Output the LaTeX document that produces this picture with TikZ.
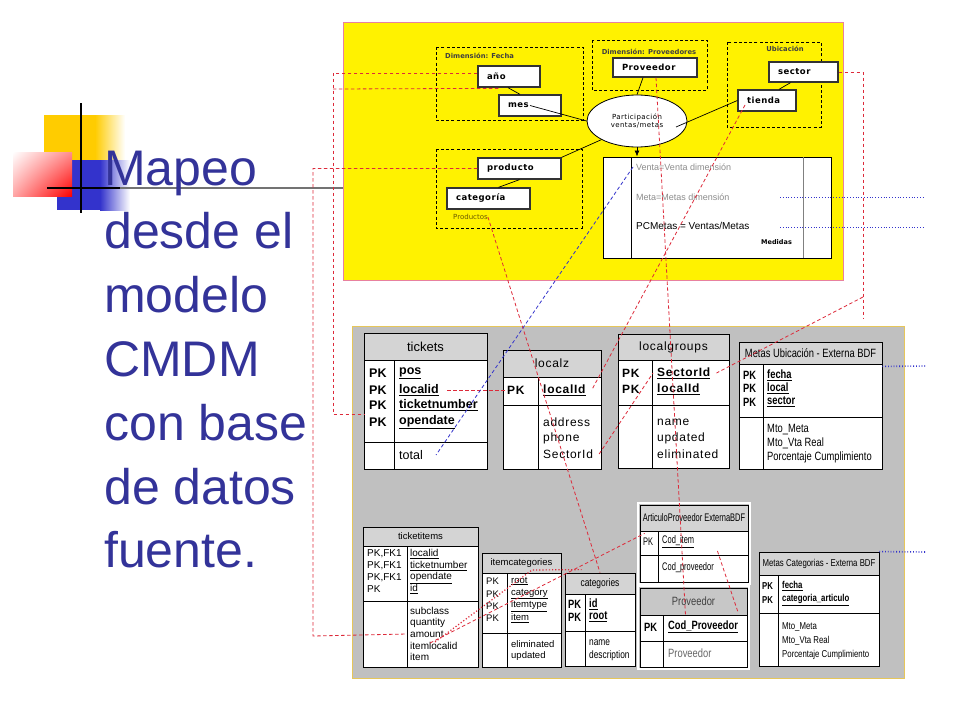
\documentclass[tikz,border=0pt]{standalone}
\usepackage{fontspec}
\setmainfont{Liberation Sans}
\newfontfamily\verdfont{DejaVu Sans}
\newfontfamily\verdspaced[LetterSpace=6]{DejaVu Sans}
\newfontfamily\spacedfont[LetterSpace=6]{Liberation Sans}
\newfontfamily\narrowfont[FakeStretch=0.78]{Liberation Sans}
\newfontfamily\condfont[FakeStretch=0.68]{Liberation Sans}
\usetikzlibrary{shapes.geometric,arrows.meta,shadings}
\definecolor{titleblue}{HTML}{333399}
\definecolor{pinkedge}{HTML}{E8819F}
\definecolor{panelgray}{HTML}{C0C0C0}
\definecolor{grayedge}{HTML}{E6C65A}
\definecolor{hdrgray}{HTML}{D4D4D4}
\definecolor{mapred}{HTML}{DD2A3A}
\definecolor{mapblue}{HTML}{3333CC}
\definecolor{gold}{HTML}{FFCC00}
\definecolor{prodbrown}{HTML}{6B5A00}
\begin{document}
\begin{tikzpicture}[x=1pt, y=-1pt,
  title/.style={anchor=base west, inner sep=0, text=titleblue, font=\fontsize{50}{60}\selectfont},
  dimframe/.style={line width=1pt, dash pattern=on 3pt off 2.2pt},
  dimlabel/.style={inner sep=0, text=black!75, font=\verdfont\bfseries\fontsize{6.8}{8}\selectfont},
  attr/.style={draw=black!80, line width=1.3pt, fill=white, minimum height=21pt, inner xsep=9pt, inner ysep=0pt, align=left, font=\verdspaced\bfseries\fontsize{8.5}{10}\selectfont},
  link/.style={line width=0.7pt},
  map/.style={mapred, line width=0.8pt, dash pattern=on 3.5pt off 2.5pt},
  mapdot/.style={mapred, line width=1.2pt, dotted},
  venta/.style={mapblue, line width=0.8pt, dash pattern=on 3.5pt off 2.5pt},
  metaline/.style={mapblue, line width=0.8pt, dotted},
  tab/.style={draw, line width=0.8pt, fill=white},
  head/.style={draw, line width=0.8pt, fill=hdrgray, inner sep=0},
  cell/.style={anchor=west, inner sep=0},
  tkf/.style={cell, font=\fontsize{12.5}{14}\selectfont},
  lzf/.style={cell, font=\spacedfont\fontsize{12}{14}\selectfont},
  muf/.style={cell, font=\narrowfont\fontsize{12}{14}\selectfont},
  tif/.style={cell, font=\fontsize{10}{12}\selectfont},
  icf/.style={cell, font=\fontsize{9.5}{11}\selectfont},
  caf/.style={cell, font=\narrowfont\fontsize{10.7}{12}\selectfont},
  apf/.style={cell, font=\condfont\fontsize{11}{12}\selectfont},
  mcf/.style={cell, font=\narrowfont\fontsize{10}{12}\selectfont}]
\useasboundingbox (0,0) rectangle (960,720);
\fill[white] (0,0) rectangle (960,720);

% logo squares
\fill[gold] (44,115) rectangle (95,163);
\shade[left color=gold, right color=white] (95,115) rectangle (125,163);
\fill[mapblue] (57,160) rectangle (100,210);
\shade[left color=mapblue, right color=white] (100,160) rectangle (130,210);
\shade[lower right=red, lower left=red!35, upper right=red!45, upper left=white] (13,152) rectangle (72,196);
\draw[line width=1.5pt] (81,103) -- (81,213);
\draw[line width=1.5pt] (47,188) -- (120,188);
\draw[line width=1.5pt, black!55] (120,188) -- (343,188);

% title
\foreach \w [count=\i] in {Mapeo, desde el, modelo, CMDM, con base, de datos, fuente.}
  \node[title] (line\i) at (104,{185+63.8*(\i-1)}) {\w};

% conceptual model
\draw[pinkedge, fill=yellow, line width=1pt] (343,22) rectangle (843,280);
\draw[dimframe] (436,47) rectangle (583,120);
\draw[dimframe] (592,40) rectangle (707,90);
\draw[dimframe] (727,42) rectangle (821,127);
\draw[dimframe] (436,149) rectangle (582,228);
\node[dimlabel, anchor=west] (lfecha) at (445,56) {Dimensión: Fecha};
\node[dimlabel] (lprov) at (649,52) {Dimensión: Proveedores};
\node[dimlabel] (lubic) at (785,49) {Ubicación};
\node[cell, text=prodbrown, font=\verdfont\fontsize{7}{8}\selectfont] (lprod) at (453,217) {Productos};

\node[attr, text width=44pt] (ano) at (509,76.5) {año};
\node[attr, text width=44pt] (mes) at (530,105.5) {mes};
\node[attr, text width=66pt, minimum height=19pt] (prov) at (655,67.5) {Proveedor};
\node[attr, text width=51pt, minimum height=20pt] (sector) at (803.5,72) {sector};
\node[attr, text width=40pt] (tienda) at (767,100.5) {tienda};
\node[attr, text width=65pt] (producto) at (519.5,168.5) {producto};
\node[attr, text width=65pt] (categoria) at (488.5,198.5) {categoría};
\node[draw, ellipse, fill=white, line width=0.8pt, minimum width=100pt, minimum height=52pt, inner sep=0, align=center, font=\verdspaced\fontsize{7}{8}\selectfont] (part) at (637,121) {Participación\\ventas/metas};

\node[draw, line width=1pt, fill=white, minimum width=228pt, minimum height=101pt] (med) at (717,207.5) {};
\draw[line width=1pt] (631,157) -- (631,258);
\draw[line width=1pt, black!50] (803,157) -- (803,258);
\node[cell, text=black!45, font=\fontsize{9}{10}\selectfont] (mventa) at (636,167) {Venta=Venta dimensión};
\node[cell, text=black!45, font=\fontsize{9}{10}\selectfont] (mmeta) at (636,197) {Meta=Metas dimensión};
\node[cell, font=\fontsize{10}{12}\selectfont] (mpc) at (636,226) {PCMetas = Ventas/Metas};
\node[cell, font=\verdfont\bfseries\fontsize{6.5}{8}\selectfont] (mmed) at (761,242) {Medidas};

\draw[link] ([xshift=-1pt]ano.south) -- ([xshift=-10pt]mes.north);
\draw[link] (mes.center) -- (part.west);
\draw[link] ([xshift=-12pt]prov.south) -- (part.north);
\draw[link] (tienda.west) -- ([shift={(39pt,-6pt)}]part.center);
\draw[link] ([xshift=-13pt]sector.south) -- ([xshift=12pt]tienda.north);
\draw[link] (producto.north east) -- (part.south west);
\draw[link] ([xshift=10pt]categoria.north) -- (producto.south);
\draw[link, -{Latex[length=6pt,width=5pt]}] (part.south) -- (part.south |- med.north);

% source tables
\draw[grayedge, fill=panelgray, line width=1pt] (352,326) rectangle (904,678);

% tickets
\draw[tab] (364,333) rectangle (487,469);
\draw[link] (364,442) -- (487,442) (394,360) -- (394,469);
\node[head, minimum width=123pt, minimum height=27pt, font=\fontsize{13}{15}\selectfont] (tk-head) at (425.5,346.5) {tickets};
\foreach \n/\y in {pos/373, localid/390, ticketnumber/405, opendate/422} {
  \node[tkf] (tk-pk-\n) at (369,\y) {\bfseries PK};
  \node[tkf] (tk-\n) at (399,\y) {\bfseries\underline{\n}};
}
\node[tkf] (tk-total) at (399,455) {total};

% localz
\draw[tab] (503,350) rectangle (601,469);
\draw[link] (503,405) -- (601,405) (538,377) -- (538,469);
\node[head, minimum width=98pt, minimum height=27pt, font=\spacedfont\fontsize{12}{14}\selectfont] (lz-head) at (552,363.5) {localz};
\node[lzf] (lz-pk) at (507,390) {\bfseries PK};
\node[lzf] (lz-localId) at (543,390) {\bfseries\underline{localId}};
\foreach \n/\y in {address/422, phone/438, SectorId/454}
  \node[lzf] (lz-\n) at (543,\y) {\n};

% localgroups
\draw[tab] (618,334) rectangle (729,468);
\draw[link] (618,405) -- (729,405) (652,360) -- (652,468);
\node[head, minimum width=111pt, minimum height=26pt, font=\spacedfont\fontsize{12}{14}\selectfont] (lg-head) at (673.5,347) {localgroups};
\foreach \n/\y in {SectorId/373, localId/389} {
  \node[lzf] (lg-pk-\n) at (622,\y) {\bfseries PK};
  \node[lzf] (lg-\n) at (657,\y) {\bfseries\underline{\n}};
}
\foreach \n/\y in {name/422, updated/438, eliminated/454}
  \node[lzf] (lg-\n) at (657,\y) {\n};

% Metas Ubicacion
\draw[tab] (739,342) rectangle (882,469);
\draw[link] (739,417) -- (882,417) (763,364) -- (763,469);
\node[head, minimum width=143pt, minimum height=22pt, font=\narrowfont\fontsize{12}{14}\selectfont] (mu-head) at (810.5,353) {Metas Ubicación - Externa BDF};
\foreach \n/\y in {fecha/375, local/388, sector/402} {
  \node[muf] (mu-pk-\n) at (743,\y) {\bfseries PK};
  \node[muf] (mu-\n) at (767,\y) {\bfseries\underline{\n}};
}
\foreach \n/\y [count=\i] in {Mto\_Meta/430, Mto\_Vta Real/443, Porcentaje Cumplimiento/457}
  \node[muf] (mu-b\i) at (767,\y) {\n};

% ticketitems
\draw[tab] (363,527) rectangle (478,667);
\draw[link] (363,601) -- (478,601) (407,546) -- (407,667);
\node[head, minimum width=115pt, minimum height=19pt, font=\fontsize{9.5}{11}\selectfont] (ti-head) at (420.5,536.5) {ticketitems};
\foreach \k/\n/\y in {{PK,FK1}/localid/554, {PK,FK1}/ticketnumber/566, {PK,FK1}/opendate/578, {PK}/id/589} {
  \node[tif] (ti-pk-\n) at (367,\y) {\k};
  \node[tif] (ti-\n) at (410,\y) {\underline{\n}};
}
\foreach \n/\y in {subclass/611, quantity/623, amount/634, itemlocalid/646, item/657}
  \node[tif] (ti-\n) at (410,\y) {\n};

% itemcategories
\draw[tab] (482,553) rectangle (561,667);
\draw[link] (482,633) -- (561,633) (507,573) -- (507,667);
\node[head, minimum width=79pt, minimum height=20pt, font=\fontsize{9.5}{11}\selectfont] (ic-head) at (521.5,563) {itemcategories};
\foreach \n/\y in {root/581, category/594, itemtype/606, item/618} {
  \node[icf] (ic-pk-\n) at (486,\y) {PK};
  \node[icf] (ic-\n) at (511,\y) {\underline{\n}};
}
\foreach \n/\y in {eliminated/644, updated/656}
  \node[icf] (ic-\n) at (511,\y) {\n};

% categories
\draw[tab] (565,573) rectangle (635,666);
\draw[link] (565,631) -- (635,631) (585,594) -- (585,666);
\node[head, minimum width=70pt, minimum height=21pt, font=\narrowfont\fontsize{10.8}{12}\selectfont] (ca-head) at (600,583.5) {categories};
\foreach \n/\y in {id/604, root/617} {
  \node[caf, font=\narrowfont\bfseries\fontsize{12}{14}\selectfont] (ca-pk-\n) at (568,\y) {PK};
  \node[caf, font=\narrowfont\bfseries\fontsize{12}{14}\selectfont] (ca-\n) at (589,\y) {\underline{\n}};
}
\foreach \n/\y in {name/643, description/656}
  \node[caf] (ca-\n) at (589,\y) {\n};

% ArticuloProveedor and Proveedor
\draw[white, line width=2.5pt] (638,503) rectangle (750,584);
\draw[white, line width=2.5pt] (638,586) rectangle (749,669);
\draw[tab] (640,505) rectangle (748,582);
\draw[link] (640,555) -- (748,555) (658,531) -- (658,582);
\node[head, minimum width=108pt, minimum height=26pt, font=\condfont\fontsize{11}{12}\selectfont] (ap-head) at (694,518) {ArticuloProveedor ExternaBDF};
\node[apf] (ap-pk) at (643,542) {PK};
\node[apf] (ap-coditem) at (662,542) {\underline{Cod\_item}};
\node[apf] (ap-codprov) at (662,568) {Cod\_proveedor};

\draw[tab] (640,588) rectangle (747,667);
\draw[link] (640,641) -- (747,641) (663,615) -- (663,667);
\node[head, fill=black!22, minimum width=107pt, minimum height=27pt, text=black!75, font=\narrowfont\fontsize{12}{14}\selectfont] (pv-head) at (693.5,601.5) {Proveedor};
\node[muf] (pv-pk) at (644,627) {\bfseries PK};
\node[muf] (pv-cod) at (668,627) {\bfseries\underline{Cod\_Proveedor}};
\node[muf, text=black!60] (pv-name) at (668,653) {Proveedor};

% Metas Categorias
\draw[tab] (759,552) rectangle (879,666);
\draw[link] (759,613) -- (879,613) (778,575) -- (778,666);
\node[head, minimum width=120pt, minimum height=23pt, font=\narrowfont\fontsize{10}{12}\selectfont] (mc-head) at (819,563.5) {Metas Categorias - Externa BDF};
\foreach \n/\y [count=\i] in {fecha/586, categoria\_articulo/600} {
  \node[mcf] (mc-pk\i) at (762,\y) {\bfseries PK};
  \node[mcf] (mc-k\i) at (782,\y) {\bfseries\underline{\n}};
}
\foreach \n/\y [count=\i] in {Mto\_Meta/627, Mto\_Vta Real/641, Porcentaje Cumplimiento/655}
  \node[mcf] (mc-b\i) at (782,\y) {\n};

% mapping lines
\coordinate (tk-in) at (364,414);
\draw[map] ([yshift=3.5pt]ano.west) -- (333,73) -- (333,414) -- (tk-in);
\draw[map] ([yshift=6pt]mes.north west) -- (333,89);
\draw[map] (producto.west) -- (313,168.5) -- (313,636) -- ([xshift=-3pt]ti-amount.west);
\draw[map] (sector.east) -- (863,72) -- (863,318);
\draw[map] (863,297) -- ([xshift=6pt]lg-SectorId.east);
\draw[map] ([shift={(-22pt,-4.5pt)}]tienda.center) -- ([xshift=6pt]lz-localId.east);
\draw[map] ([xshift=6pt]lz-SectorId.east) -- ([xshift=-4pt]lg-SectorId.west);
\draw[map] ([xshift=1pt]prov.south) -- ([xshift=-8pt]pv-head.south);
\draw[map] (lprod.east) -- (ca-head.north);
\draw[map] ([xshift=8pt]tk-localid.east) -- (lz-pk.west);
\draw[map] ([shift={(20pt,3pt)}]ti-itemlocalid.west) -- ([shift={(5pt,-2pt)}]ap-head.south west);
\draw[mapdot] ([shift={(25pt,4pt)}]ti-itemlocalid.west) -- (532,570) -- ([shift={(17pt,3pt)}]ca-head.north west);
\draw[map] ([shift={(23pt,-9pt)}]ap-coditem.east) -- ([shift={(-9pt,2pt)}]pv-head.south east);
\draw[venta] ([xshift=-3pt]mventa.west) -- ([xshift=13pt]tk-total.east);

% measure links
\coordinate (m1a) at (780,197); \coordinate (m1b) at (923,197);
\coordinate (m2a) at (780,227); \coordinate (m2b) at (923,227);
\coordinate (m3b) at (925,366); \coordinate (m4b) at (925,552);
\draw[metaline] (m1a) -- (m1b);
\draw[metaline] (m2a) -- (m2b);
\draw[metaline, line width=1.6pt] ([yshift=-2pt]mu-head.south east) -- (m3b);
\draw[metaline, line width=1.6pt] (mc-head.north east) -- (m4b);
\end{tikzpicture}
\end{document}
